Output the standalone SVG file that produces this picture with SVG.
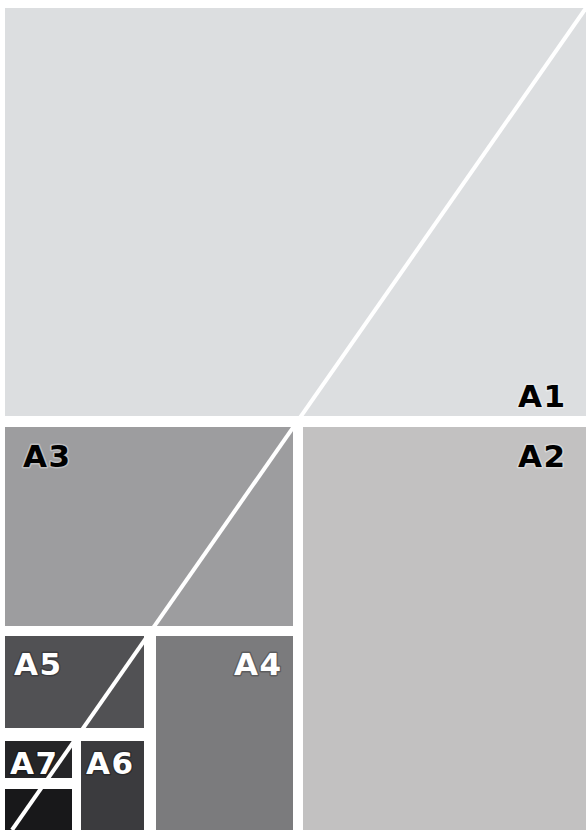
<svg xmlns="http://www.w3.org/2000/svg" width="586" height="830" viewBox="0 0 586 830">
<style>
.lbl{font-family:"DejaVu Sans","Liberation Sans",sans-serif;font-weight:bold;font-size:31px;letter-spacing:1.5px;paint-order:stroke;stroke-width:3px;stroke-linejoin:round}
.dk{fill:#000;stroke:#ffffff;stroke-opacity:0.35}
.lt{fill:#fff;stroke:#000;stroke-opacity:0.25}
.diag{stroke:#fff;stroke-width:4;fill:none}
</style>
<rect x="0" y="0" width="586" height="830" fill="#fff"/>
<g id="A1"><rect x="5" y="8" width="581" height="408" fill="#dcdee0"/><text class="lbl dk" x="518" y="407">A1</text></g>
<g id="A2"><rect x="303" y="427" width="283" height="403" fill="#c2c1c1"/><text class="lbl dk" x="518" y="467">A2</text></g>
<g id="A3"><rect x="5" y="427" width="288" height="199" fill="#9d9d9f"/><text class="lbl dk" x="23" y="467">A3</text></g>
<g id="A4"><rect x="156" y="636" width="137" height="194" fill="#7b7b7d"/><text class="lbl lt" x="234" y="675">A4</text></g>
<g id="A5"><rect x="5" y="636" width="139" height="92" fill="#515154"/><text class="lbl lt" x="14" y="675">A5</text></g>
<g id="A6"><rect x="81" y="741" width="63" height="89" fill="#3b3b3e"/><text class="lbl lt" x="86" y="774">A6</text></g>
<g id="A7"><rect x="5" y="741" width="67" height="37" fill="#252527"/><text class="lbl lt" x="10" y="774">A7</text></g>
<g id="A8"><rect x="5" y="789" width="67" height="41" fill="#18181a"/></g>
<g id="connectors"><line class="diag" x1="586" y1="8" x2="12" y2="830"/></g>
</svg>
